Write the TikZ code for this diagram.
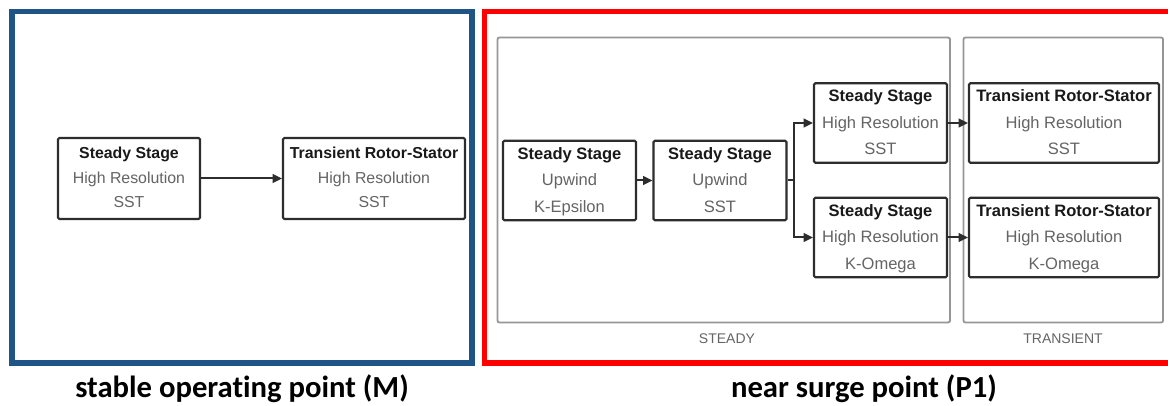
\documentclass[tikz,border=0pt]{standalone}
\usepackage{fontspec}
\setmainfont{Liberation Sans}
\newfontfamily\capfont[Ligatures=NoCommon]{Carlito}
\usetikzlibrary{arrows.meta}

\definecolor{frameblue}{RGB}{31,84,135}
\definecolor{framered}{RGB}{255,0,0}
\definecolor{boxline}{RGB}{45,45,45}
\definecolor{laneline}{RGB}{150,150,150}
\definecolor{subtext}{RGB}{100,100,100}
\definecolor{headtext}{RGB}{25,25,25}

\newcommand{\stagetext}[3]{{\bfseries\color{headtext}\strut#1}\\{\color{subtext}\strut#2}\\{\color{subtext}\strut#3}}

\tikzset{
  frame/.style={line width=3.8pt},
  lane/.style={draw=laneline, line width=1.4pt, rounded corners=1.5pt},
  lanelabel/.style={font=\fontsize{10.5}{12}\selectfont, text=subtext, inner sep=0pt},
  stagebox/.style={draw=boxline, fill=white, line width=1.6pt, rounded corners=1pt,
    inner sep=0pt, align=center},
  bigstage/.style={stagebox, minimum height=60.75pt, font=\fontsize{11.9}{18.4}\selectfont},
  smallstage/.style={stagebox, minimum height=57.5pt, font=\fontsize{12.4}{19.9}\selectfont},
  flow/.style={draw=boxline, line width=1.5pt, -{Triangle[length=7pt,width=6.5pt]}},
  caption/.style={font=\capfont\bfseries\fontsize{23}{27}\selectfont, text=black, inner sep=0pt, anchor=base}
}

\begin{document}
\begin{tikzpicture}[x=0.75pt, y=-0.75pt]
  \useasboundingbox (0,0) rectangle (1168,406);

  % outer frames
  \draw[frame, draw=frameblue] (12,11.5) rectangle (472,363);
  \draw[frame, draw=framered] (484.5,11.5) rectangle (1172,363);

  % left: stable operating point
  \node[bigstage, minimum width=106.5pt] (l1) at (129,178.5)
    {\stagetext{Steady Stage}{High Resolution}{SST}};
  \node[bigstage, minimum width=136.5pt] (l2) at (374,178.5)
    {\stagetext{Transient Rotor-Stator}{High Resolution}{SST}};
  \draw[flow] (l1.east) -- (l2.west);

  % right: lanes
  \draw[lane] (497.5,37.5) rectangle (950,322.5);
  \draw[lane] (963.5,37.5) rectangle (1163,322.5);
  \node[lanelabel] (steadylbl) at (727,339) {STEADY};
  \node[lanelabel] (translbl) at (1063,339) {TRANSIENT};

  % right: stages
  \node[smallstage, minimum width=99.75pt] (a) at (569.5,180.5)
    {\stagetext{Steady Stage}{Upwind}{K-Epsilon}};
  \node[smallstage, minimum width=99.75pt] (b) at (720,180.5)
    {\stagetext{Steady Stage}{Upwind}{SST}};
  \node[smallstage, minimum width=99.75pt] (c) at (880.5,123)
    {\stagetext{Steady Stage}{High Resolution}{SST}};
  \node[smallstage, minimum width=99.75pt] (d) at (880.5,237.5)
    {\stagetext{Steady Stage}{High Resolution}{K-Omega}};
  \node[smallstage, minimum width=142.5pt] (e) at (1064,123)
    {\stagetext{Transient Rotor-Stator}{High Resolution}{SST}};
  \node[smallstage, minimum width=142.5pt] (f) at (1064,237.5)
    {\stagetext{Transient Rotor-Stator}{High Resolution}{K-Omega}};

  % right: connectors
  \draw[flow] (a.east) -- (b.west);
  \coordinate (split) at ([xshift=5pt]b.east);
  \draw[draw=boxline, line width=1.5pt] (b.east) -- (split);
  \draw[flow] (split) |- (c.west);
  \draw[flow] (split) |- (d.west);
  \draw[flow] (c.east) -- (e.west);
  \draw[flow] (d.east) -- (f.west);

  % captions
  \node[caption] (capm) at (242,397) {stable operating point (M)};
  \node[caption] (capp) at (864,397) {near surge point (P1)};
\end{tikzpicture}
\end{document}
